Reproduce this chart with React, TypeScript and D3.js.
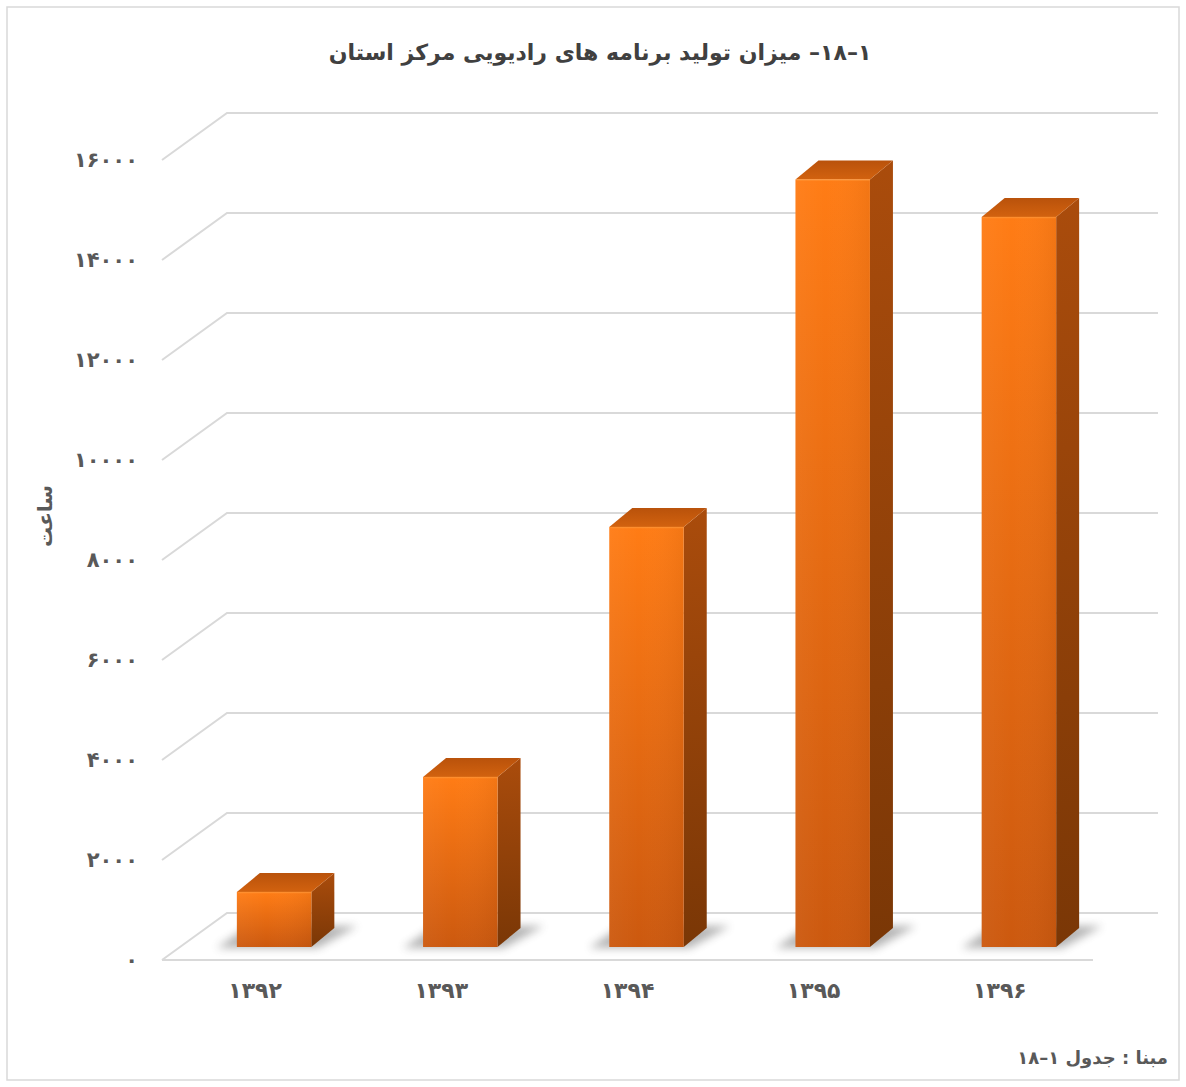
import React from 'react';
import * as d3 from 'd3';

// chart data
const years = ['۱۳۹۲', '۱۳۹۳', '۱۳۹۴', '۱۳۹۵', '۱۳۹۶'];
const hours = [1100, 3400, 8400, 15350, 14600];
const yTicks = [0, 2000, 4000, 6000, 8000, 10000, 12000, 14000, 16000];

const titleText = '۱\u200F–\u200F۱۸\u200F– میزان تولید برنامه های رادیویی مرکز استان';
const axisTitle = 'ساعت';
const sourceText = 'مبنا : جدول ۱\u200F–\u200F۱۸';

const toPersian = (n: number) =>
  String(n).replace(/\d/g, (c) => '۰۱۲۳۴۵۶۷۸۹'[+c]);

const FONT = '"DejaVu Sans", sans-serif';

export default function App() {
  const width = 1186;
  const height = 1087;

  // 3d frame: front floor edge and the depth offset to the back wall
  const floorY = 960;
  const frontLeft = 162;
  const frontRight = 1093;
  const depth = { dx: 65, dy: -47 };
  // bars sit a little behind the front edge
  const barFront = { dx: 19, dy: -13 };
  const barDepth = { dx: 23, dy: -19 };

  const x = d3.scaleBand<string>()
    .domain(years)
    .range([frontLeft, frontRight])
    .paddingInner(0.6)
    .paddingOuter(0.3);

  const h = d3.scaleLinear().domain([0, 16000]).range([0, 800]);

  const bw = x.bandwidth();

  return (
    <svg
      width={width}
      height={height}
      style={{ position: 'absolute', left: 0, top: 0, background: '#fff' }}
      fontFamily={FONT}
    >
      <defs>
        <linearGradient id="front" x1="0" y1="0" x2="0" y2="1">
          <stop offset="0%" stopColor="#ff7c15" />
          <stop offset="100%" stopColor="#cc590f" />
        </linearGradient>
        <linearGradient id="frontH" x1="0" y1="0" x2="1" y2="0">
          <stop offset="0%" stopColor="#ffffff" stopOpacity={0.04} />
          <stop offset="40%" stopColor="#ffffff" stopOpacity={0} />
          <stop offset="100%" stopColor="#000000" stopOpacity={0.05} />
        </linearGradient>
        <linearGradient id="side" x1="0" y1="0" x2="0" y2="1">
          <stop offset="0%" stopColor="#aa4c0c" />
          <stop offset="100%" stopColor="#7a3706" />
        </linearGradient>
        <linearGradient id="top" x1="0" y1="1" x2="0" y2="0">
          <stop offset="0%" stopColor="#d2620f" />
          <stop offset="100%" stopColor="#b9520b" />
        </linearGradient>
        <filter id="blur" x="-50%" y="-50%" width="200%" height="200%">
          <feGaussianBlur stdDeviation="4" />
        </filter>
      </defs>

      <rect x={7} y={7} width={1172} height={1073} fill="#fff" stroke="#d9d9d9" strokeWidth={1.5} />

      <text
        x={600}
        y={60}
        textAnchor="middle"
        direction="rtl"
        fontSize={22}
        fontWeight="bold"
        fill="#404040"
      >
        {titleText}
      </text>

      {/* walls */}
      <g stroke="#d9d9d9" strokeWidth={2} fill="none">
        {yTicks.map((t) => {
          const yf = floorY - h(t);
          const yb = yf + depth.dy;
          return (
            <path
              key={t}
              d={`M${frontLeft},${yf}L${frontLeft + depth.dx},${yb}L${frontRight + depth.dx},${yb}`}
            />
          );
        })}
        <line x1={frontLeft} x2={frontRight} y1={floorY} y2={floorY} />
      </g>

      {/* y labels */}
      <g fontSize={21} fontWeight="bold" fill="#595959">
        {yTicks.map((t) => (
          <text key={t} x={138} y={floorY - h(t)} dy="0.35em" textAnchor="end">
            {toPersian(t)}
          </text>
        ))}
      </g>
      <text
        transform={`translate(52,516) rotate(-90)`}
        textAnchor="middle"
        fontSize={20}
        fontWeight="bold"
        fill="#595959"
      >
        {axisTitle}
      </text>

      {/* floor shadows */}
      <g filter="url(#blur)" fill="#5a5a5a" opacity={0.45}>
        {years.map((yr) => {
          const x0 = (x(yr) ?? 0) + barFront.dx;
          const x1 = x0 + bw;
          const yb = floorY + barFront.dy;
          return (
            <polygon
              key={yr}
              points={`${x0 - 20},${yb + 1} ${x1 + 6},${yb + 1} ${x1 + 46},${yb - 21} ${x0 + 12},${yb - 21}`}
            />
          );
        })}
      </g>

      {/* bars */}
      {years.map((yr, i) => {
        const x0 = (x(yr) ?? 0) + barFront.dx;
        const x1 = x0 + bw;
        const yb = floorY + barFront.dy;
        const yt = yb - h(hours[i]);
        const { dx, dy } = barDepth;
        return (
          <g key={yr}>
            <polygon
              points={`${x1},${yt} ${x1 + dx},${yt + dy} ${x1 + dx},${yb + dy} ${x1},${yb}`}
              fill="url(#side)"
            />
            <polygon
              points={`${x0},${yt} ${x0 + dx},${yt + dy} ${x1 + dx},${yt + dy} ${x1},${yt}`}
              fill="url(#top)"
            />
            <rect x={x0} y={yt} width={bw} height={yb - yt} fill="url(#front)" />
            <rect x={x0} y={yt} width={bw} height={yb - yt} fill="url(#frontH)" />
            <line x1={x0 + 1} x2={x1} y1={yt + 0.5} y2={yt + 0.5} stroke="#ff9a3c" strokeOpacity={0.6} strokeWidth={1.5} />
          </g>
        );
      })}

      {/* x labels */}
      <g fontSize={22} fontWeight="bold" fill="#595959" textAnchor="middle">
        {years.map((yr) => (
          <text key={yr} x={(x(yr) ?? 0) + bw / 2} y={998}>
            {yr}
          </text>
        ))}
      </g>

      <text
        x={1168}
        y={1064}
        direction="rtl"
        textAnchor="start"
        fontSize={18}
        fontWeight="bold"
        fill="#595959"
      >
        {sourceText}
      </text>
    </svg>
  );
}
